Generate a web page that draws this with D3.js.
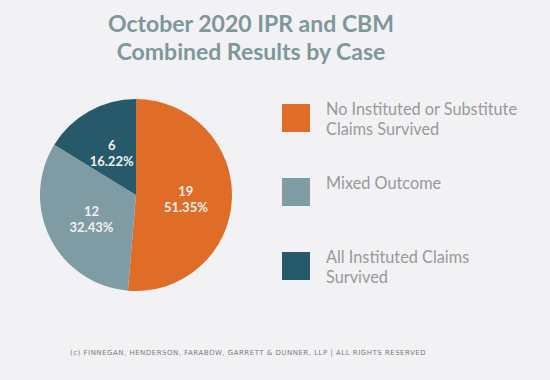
<!DOCTYPE html>
<html>
<head>
<meta charset="utf-8">
<script src="https://cdn.jsdelivr.net/npm/d3@7"></script>
<style>
  html, body { margin: 0; padding: 0; background: #f2f2f4; }
  svg { display: block; }
</style>
</head>
<body>
<div id="pie_chart"></div>
<script>
// Data
const categories = ['No Instituted or Substitute Claims Survived', 'Mixed Outcome', 'All Instituted Claims Survived']
const legendLines = [['No Instituted or Substitute', 'Claims Survived'], ['Mixed Outcome'], ['All Instituted Claims', 'Survived']]
const counts = [19, 12, 6]
const shareLabels = ['51.35%', '32.43%', '16.22%']
const colors = ['#e06d27', '#7f9ba4', '#265a6b']
const titleLines = ['October 2020 IPR and CBM', 'Combined Results by Case']
const footer = '(c) FINNEGAN, HENDERSON, FARABOW, GARRETT & DUNNER, LLP | ALL RIGHTS RESERVED'

const width = 550
const height = 380

const svg = d3.select('#pie_chart')
  .append('svg')
  .attr('width', width)
  .attr('height', height)

svg.append('rect')
  .attr('width', width)
  .attr('height', height)
  .attr('fill', '#f2f2f4')

// Title
svg.append('g')
  .selectAll('text')
  .data(titleLines)
  .join('text')
  .attr('x', 251)
  .attr('y', (d, i) => 32 + i * 28)
  .attr('text-anchor', 'middle')
  .attr('font-family', 'Lato, sans-serif')
  .attr('font-weight', 'bold')
  .attr('font-size', 23)
  .attr('fill', '#7d979c')
  .text(d => d)

// Pie
const radius = 96
const pieG = svg.append('g')
  .attr('transform', 'translate(136, 195)')

const pie = d3.pie().sort(null).value(d => d)
const arcs = pie(counts)
const arc = d3.arc().innerRadius(0).outerRadius(radius)
const labelArc = d3.arc().innerRadius(radius * 0.52).outerRadius(radius * 0.52)

pieG.selectAll('path')
  .data(arcs)
  .join('path')
  .attr('d', arc)
  .attr('fill', (d, i) => colors[i])

const labels = pieG.selectAll('text.slice-label')
  .data(arcs)
  .join('text')
  .attr('class', 'slice-label')
  .attr('transform', d => `translate(${labelArc.centroid(d)})`)
  .attr('text-anchor', 'middle')
  .attr('font-family', 'Lato, sans-serif')
  .attr('font-weight', 'bold')
  .attr('font-size', 13)
  .attr('fill', '#f4f0ec')

labels.append('tspan')
  .attr('x', 0)
  .attr('dy', '-0.1em')
  .text(d => d.data)

labels.append('tspan')
  .attr('x', 0)
  .attr('dy', '1.25em')
  .text((d, i) => shareLabels[i])

// Legend
const legendY = d3.scalePoint()
  .domain(categories)
  .range([104, 252])

const legend = svg.append('g')
  .selectAll('g')
  .data(categories)
  .join('g')
  .attr('transform', d => `translate(282, ${legendY(d)})`)

legend.append('rect')
  .attr('width', 28)
  .attr('height', 28)
  .attr('fill', (d, i) => colors[i])

legend.append('text')
  .attr('font-family', 'Lato, sans-serif')
  .attr('font-size', 16.3)
  .attr('fill', '#99999b')
  .selectAll('tspan')
  .data((d, i) => legendLines[i])
  .join('tspan')
  .attr('x', 44)
  .attr('y', (d, i) => 11 + i * 20)
  .text(d => d)

// Footer
svg.append('text')
  .attr('x', 70)
  .attr('y', 355)
  .attr('font-family', 'DejaVu Sans, sans-serif')
  .attr('font-size', 7)
  .attr('letter-spacing', 0.5)
  .attr('fill', '#7a7a7c')
  .text(footer)
</script>
</body>
</html>
